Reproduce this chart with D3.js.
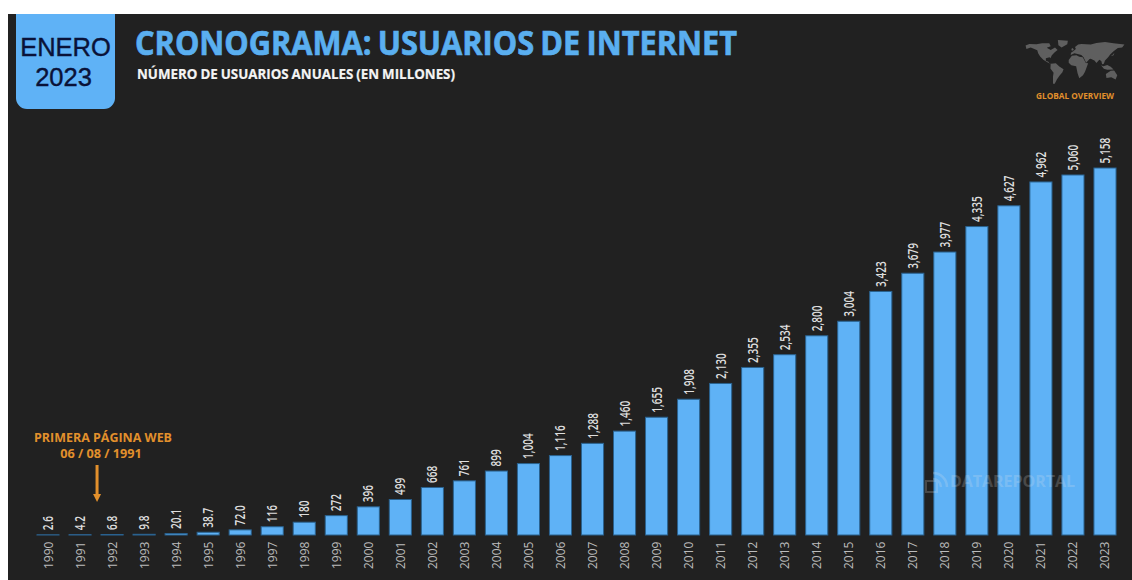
<!DOCTYPE html>
<html lang="es">
<head>
<meta charset="utf-8">
<title>Cronograma: usuarios de internet</title>
<script src="https://cdn.jsdelivr.net/npm/d3@7"></script>
<style>
  html, body { margin: 0; padding: 0; background: #fff; overflow: hidden; }
  svg { display: block; }
</style>
</head>
<body>
<svg id="chart" width="1132" height="580"></svg>
<script>
// Internet users per year, in millions
const years = ["1990","1991","1992","1993","1994","1995","1996","1997","1998","1999","2000","2001",
  "2002","2003","2004","2005","2006","2007","2008","2009","2010","2011","2012","2013","2014","2015",
  "2016","2017","2018","2019","2020","2021","2022","2023"];
const users = [2.6,4.2,6.8,9.8,20.1,38.7,72.0,116,180,272,396,499,668,761,899,1004,1116,1288,1460,
  1655,1908,2130,2355,2534,2800,3004,3423,3679,3977,4335,4627,4962,5060,5158];

// Rough continent outlines as [longitude, latitude] rings for the small decorative map
const continents = [
  [[-168,66],[-155,71],[-130,70],[-110,73],[-85,73],[-80,64],[-94,59],[-80,52],[-65,60],[-56,52],[-66,45],[-76,36],[-81,27],[-84,30],[-97,27],[-97,19],[-88,16],[-83,9],[-78,8],[-92,14],[-106,22],[-117,32],[-124,42],[-127,51],[-150,60],[-165,55]],
  [[-55,83],[-20,81],[-22,70],[-42,60],[-53,67]],
  [[-80,10],[-62,11],[-50,1],[-35,-7],[-39,-17],[-48,-26],[-58,-38],[-66,-52],[-72,-52],[-72,-30],[-70,-18],[-81,-5]],
  [[-10,37],[-9,44],[0,49],[8,55],[5,61],[16,69],[28,71],[60,69],[80,74],[110,77],[140,73],[178,69],[170,60],[155,58],[140,48],[128,38],[121,30],[110,20],[106,10],[100,8],[97,18],[90,22],[80,12],[73,20],[60,25],[56,24],[44,13],[35,30],[27,37],[14,40],[3,42]],
  [[-17,21],[-6,34],[10,36],[20,31],[32,30],[43,12],[51,11],[40,-15],[33,-26],[20,-35],[14,-20],[9,2],[-8,5],[-17,13]],
  [[113,-22],[130,-12],[142,-11],[153,-26],[147,-39],[132,-32],[115,-34]],
  [[96,5],[106,-6],[118,-9],[140,-8],[130,0],[118,6],[104,2]],
  [[130,33],[140,36],[143,44],[138,38]],
  [[-6,50],[1,52],[-3,58],[-8,55]]
];

const width = 1132, height = 580;
const svg = d3.select("#chart");
const blue = "#5fb2f6";
const orange = "#e2902c";
const sans = "'Open Sans', 'Noto Sans', sans-serif";

// Dark panel and month badge
svg.append("rect").attr("x", 8).attr("y", 14).attr("width", width - 8).attr("height", height - 14).attr("fill", "#212121");
svg.append("path").attr("fill", blue)
  .attr("d", "M16,14H115V98a11,11 0 0 1 -11,11H27a11,11 0 0 1 -11,-11Z");
const badge = svg.append("g").attr("font-family", "'Liberation Sans', Arial, sans-serif")
  .attr("font-size", 25.5).attr("fill", "#0a1238").attr("stroke", "#0a1238").attr("stroke-width", 0.4)
  .attr("text-anchor", "middle");
badge.append("text").attr("x", 65.5).attr("y", 56).text("ENERO");
badge.append("text").attr("x", 63.5).attr("y", 86).text("2023");

// Headline and subheading
svg.append("text").attr("x", 135).attr("y", 54.5).attr("font-family", sans).attr("font-weight", 700)
  .attr("font-size", 34).attr("fill", "#5aaff0").attr("stroke", "#5aaff0").attr("stroke-width", 0.7)
  .attr("word-spacing", -2).attr("textLength", 602).attr("lengthAdjust", "spacingAndGlyphs")
  .text("CRONOGRAMA: USUARIOS DE INTERNET");
svg.append("text").attr("x", 137).attr("y", 79).attr("font-family", sans).attr("font-weight", 700)
  .attr("font-size", 14).attr("fill", "#f4f4f4").attr("stroke", "#f4f4f4").attr("stroke-width", 0.2)
  .attr("word-spacing", -0.5).attr("textLength", 318).attr("lengthAdjust", "spacingAndGlyphs")
  .text("NÚMERO DE USUARIOS ANUALES (EN MILLONES)");

// Scales
const x = d3.scaleBand().domain(years).range([32, 1121]).paddingInner(0.31).paddingOuter(0.155);
const y = d3.scaleLinear().domain([0, 5158]).range([535, 168]);
const formatValue = v => v < 100 ? d3.format(".1f")(v) : d3.format(",.0f")(v);

// Bars
svg.append("g").selectAll("rect").data(users).join("rect")
  .attr("x", (d, i) => x(years[i]))
  .attr("y", d => y(d))
  .attr("width", x.bandwidth())
  .attr("height", d => y(0) - y(d))
  .attr("fill", blue)
  .attr("stroke", "#2a628f")
  .attr("stroke-width", 1);

// Value labels, turned to read upward and squeezed along their length
svg.append("g").selectAll("text").data(users).join("text")
  .attr("transform", (d, i) => `translate(${x(years[i]) + x.bandwidth() / 2 + 5},${y(d) - 4.5}) rotate(-90) scale(0.72,1)`)
  .attr("font-family", sans).attr("font-weight", 600).attr("font-size", 14)
  .attr("fill", "#dedede")
  .text(formatValue);

// Year axis with rotated tick labels
const axis = svg.append("g").attr("transform", "translate(0,535)")
  .call(d3.axisBottom(x).tickSize(0).tickPadding(0));
axis.select(".domain").remove();
axis.selectAll("text")
  .attr("transform", "translate(4.5,34) rotate(-90)")
  .attr("x", 0).attr("y", 0).attr("dy", 0)
  .attr("text-anchor", "start")
  .attr("font-family", sans).attr("font-size", 12).attr("fill", "#bcbcbc");

// First web page callout
const note = svg.append("g").attr("font-family", sans).attr("font-weight", 700)
  .attr("fill", orange).attr("text-anchor", "middle");
note.append("text").attr("x", 103).attr("y", 442).attr("font-size", 12.5)
  .attr("textLength", 138).attr("lengthAdjust", "spacingAndGlyphs").text("PRIMERA PÁGINA WEB");
note.append("text").attr("x", 101).attr("y", 458).attr("font-size", 12.7).text("06 / 08 / 1991");
const arrowX = x("1991") + x.bandwidth() / 2 + 17;
svg.append("path").attr("fill", orange)
  .attr("d", d3.line()([[arrowX - 1.5, 465], [arrowX + 1.5, 465], [arrowX + 1.5, 494], [arrowX + 4, 494],
    [arrowX, 502], [arrowX - 4, 494], [arrowX - 1.5, 494]]) + "Z");

// Small world map in the top corner, stretched to the width of its slot
const mapX = d3.scaleLinear().domain([-170, 180]).range([1025, 1125]);
const mapY = d3.scaleLinear().domain([83, -56]).range([40, 85]);
const ringPath = d3.line().x(d => mapX(d[0])).y(d => mapY(d[1]));
svg.append("g").selectAll("path").data(continents).join("path")
  .attr("d", d => ringPath(d) + "Z").attr("fill", "#5f5f5f");
svg.append("text").attr("x", 1075).attr("y", 98.5).attr("text-anchor", "middle")
  .attr("font-family", sans).attr("font-weight", 700).attr("font-size", 8.5).attr("fill", orange)
  .attr("textLength", 78).attr("lengthAdjust", "spacingAndGlyphs").text("GLOBAL OVERVIEW");

// Source watermark across the last bars
const mark = svg.append("g").attr("opacity", 0.2).attr("fill", "#e8e8e8");
mark.append("text").attr("x", 950).attr("y", 487).attr("font-family", sans).attr("font-weight", 700)
  .attr("font-size", 15.5).attr("textLength", 125).attr("lengthAdjust", "spacingAndGlyphs").text("DATAREPORTAL");
mark.append("rect").attr("x", 926).attr("y", 481).attr("width", 11).attr("height", 11)
  .attr("fill", "none").attr("stroke", "#e8e8e8").attr("stroke-width", 2);
mark.append("path").attr("fill", "none").attr("stroke", "#e8e8e8").attr("stroke-width", 2.5)
  .attr("d", "M933,473a14,14 0 0 1 14,14M933,479a8,8 0 0 1 8,8");
</script>
</body>
</html>
